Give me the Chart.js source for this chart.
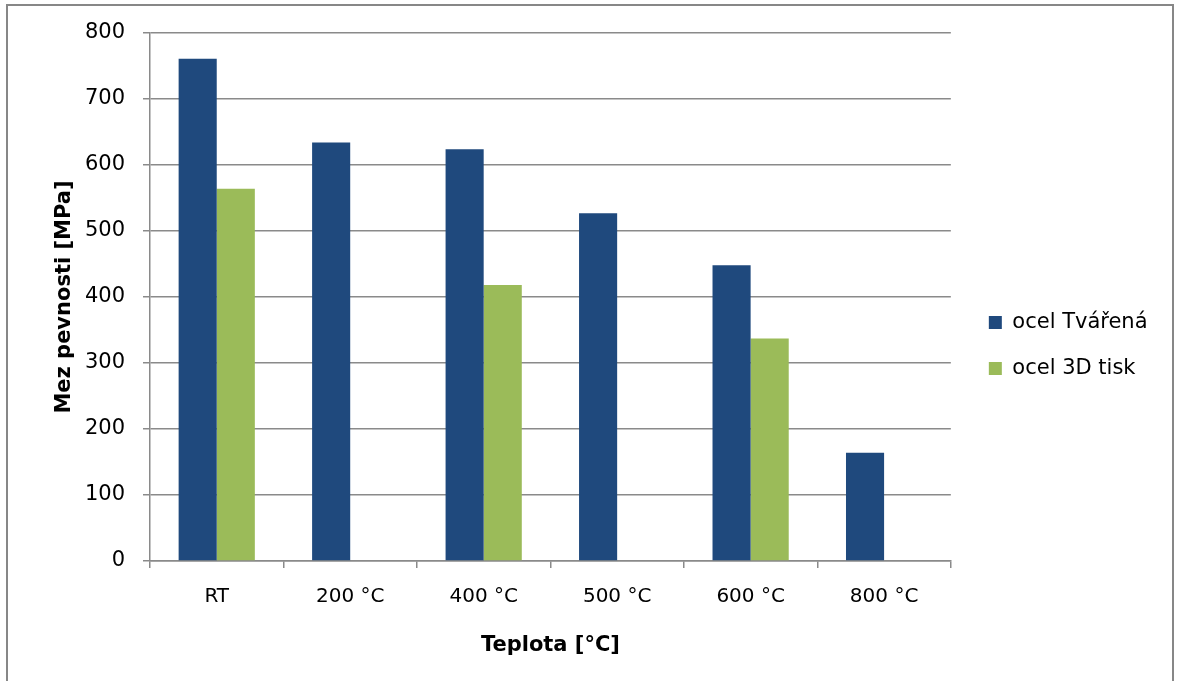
<!DOCTYPE html>
<html>
<head>
<meta charset="utf-8">
<script src="https://cdn.jsdelivr.net/npm/chart.js@4.4.1/dist/chart.umd.min.js"></script>
<style>
  html, body { margin: 0; padding: 0; background: #ffffff; }
  #wrap { position: relative; width: 1181px; height: 681px; overflow: hidden; }
  #frame { position: absolute; left: 6px; top: 4px; width: 1164px; height: 720px;
           border: 2px solid #878787; pointer-events: none; }
  canvas { position: absolute; left: 0; top: 0; }
</style>
</head>
<body>
<div id="wrap">
  <canvas id="c" width="1181" height="681"></canvas>
  <div id="frame"></div>
</div>
<script>
const categories = ['RT', '200 °C', '400 °C', '500 °C', '600 °C', '800 °C'];
const tvarena = [761, 634, 624, 527, 448, 164];
const tisk3d = [564, null, 418, null, 337, null];
const seriesNames = ['ocel Tvářená', 'ocel 3D tisk'];
const yTicks = [0, 100, 200, 300, 400, 500, 600, 700, 800];

const FONT = 'DejaVu Sans';
const GRID = '#8a8a8a';

new Chart(document.getElementById('c'), {
  type: 'bar',
  data: {
    labels: categories,
    datasets: [
      { label: seriesNames[0], data: tvarena, backgroundColor: '#1F497D', borderWidth: 0 },
      { label: seriesNames[1], data: tisk3d, backgroundColor: '#9BBB59', borderWidth: 0 }
    ]
  },
  options: {
    responsive: false,
    animation: false,
    devicePixelRatio: 1,
    layout: { padding: { left: 8, top: 33, right: 26, bottom: 23 } },
    datasets: { bar: { categoryPercentage: 0.571, barPercentage: 1.0 } },
    plugins: {
      tooltip: { enabled: false },
      legend: {
        position: 'right',
        labels: {
          boxWidth: 13, boxHeight: 13, padding: 25,
          color: '#000', font: { family: FONT, size: 21 }
        }
      }
    },
    scales: {
      x: {
        grid: { display: true, drawOnChartArea: false, drawTicks: true, tickLength: 7, color: GRID, lineWidth: 1.5, offset: true },
        border: { display: true, color: GRID, width: 1.5 },
        ticks: { color: '#000', font: { family: FONT, size: 20 }, padding: 17, maxRotation: 0 },
        title: { display: true, text: 'Teplota [°C]', color: '#000', font: { family: FONT, size: 21, weight: 'bold' }, padding: { top: 0, bottom: 0 } },
        afterFit(s) { s.height = 97; }
      },
      y: {
        min: 0, max: 800,
        afterBuildTicks(s) { s.ticks = yTicks.map(v => ({ value: v })); },
        grid: { color: GRID, lineWidth: 1.5, drawTicks: true, tickLength: 7 },
        border: { display: true, color: GRID, width: 1.5 },
        ticks: { color: '#000', font: { family: FONT, size: 21 }, padding: 18 },
        title: { display: true, text: 'Mez pevnosti [MPa]', color: '#000', font: { family: FONT, size: 21, weight: 'bold' }, padding: { top: 44, bottom: 0 } },
        afterFit(s) { s.width = 142; }
      },
      gap: {
        type: 'linear', position: 'right', display: true,
        grid: { display: false, drawTicks: false },
        border: { display: false },
        ticks: { display: false },
        afterFit(s) { s.width = 13; }
      }
    }
  }
});
</script>
</body>
</html>
